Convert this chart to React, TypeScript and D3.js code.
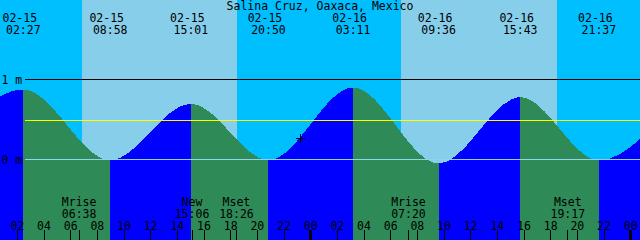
import React from "react";
import * as d3 from "d3";

const W = 640;
const H = 240;

const title = "Salina Cruz, Oaxaca, Mexico";
const windowStart = "2018-02-15 00:42";
const windowEnd = "2018-02-17 00:42";

// tide extrema (first and last lie just outside the window)
const tideTimes = [
  "2018-02-14 20:05",
  "2018-02-15 02:27",
  "2018-02-15 08:58",
  "2018-02-15 15:01",
  "2018-02-15 20:50",
  "2018-02-16 03:11",
  "2018-02-16 09:36",
  "2018-02-16 15:43",
  "2018-02-16 21:37",
  "2018-02-17 03:55",
];
const tideLevels = [0.0, 0.875, -0.01, 0.7, -0.01, 0.9, -0.05, 0.78, -0.01, 0.88];

const sunriseTimes = ["2018-02-15 06:51", "2018-02-16 06:47"];
const sunsetTimes = ["2018-02-15 18:28", "2018-02-16 18:28"];

const moonEventNames = ["Mrise", "New", "Mset", "Mrise", "Mset"];
const moonEventTimes = [
  "2018-02-15 06:38",
  "2018-02-15 15:06",
  "2018-02-15 18:26",
  "2018-02-16 07:20",
  "2018-02-16 19:17",
];

const levelTicks = [1, 0];
const levelTickLabels = ["1 m", "0 m"];
const meanLevel = 0.49;
const nowTime = "2018-02-15 23:13";
const nowLevel = 0.265;

const parse = d3.timeParse("%Y-%m-%d %H:%M");
const fmtDate = d3.timeFormat("%m-%d");
const fmtTime = d3.timeFormat("%H:%M");
const fmtHour = d3.timeFormat("%H");

const NIGHT = "#00BFFF";
const DAY = "#87CEEB";
const FLOOD = "#0000FF";
const EBB = "#2E8B57";
const FONT = "DejaVu Sans Mono";
const FS = 11.5;

export default function App() {
  const t0 = parse(windowStart)!;
  const t1 = parse(windowEnd)!;
  const x = d3.scaleTime().domain([t0, t1]).range([0, W]);
  const y = d3.scaleLinear().domain([0, 1]).range([159.5, 79.5]);

  const tides = tideTimes.map((s, i) => ({ t: parse(s)!, v: tideLevels[i] }));
  const area = d3
    .area<{ t: Date; v: number }>()
    .x((d) => x(d.t))
    .y0(H)
    .y1((d) => y(d.v))
    .curve(d3.curveMonotoneX);

  const stops: { off: number; color: string }[] = [];
  for (let i = 0; i < tides.length - 1; i++) {
    const c = tides[i + 1].v > tides[i].v ? FLOOD : EBB;
    const a = Math.max(0, Math.min(1, x(tides[i].t) / W));
    const b = Math.max(0, Math.min(1, x(tides[i + 1].t) / W));
    stops.push({ off: a, color: c }, { off: b, color: c });
  }

  const days = sunriseTimes.map((s, i) => ({ a: parse(s)!, b: parse(sunsetTimes[i])! }));
  const visibleTides = tides.filter((d) => d.t >= t0 && d.t <= t1);
  const hourTicks = d3.timeHour.every(2)!.range(t0, t1);
  const moons = moonEventTimes.map((s, i) => ({ t: parse(s)!, name: moonEventNames[i] }));
  const nowX = x(parse(nowTime)!);
  const nowY = y(nowLevel);

  const textProps = { fontFamily: FONT, fontSize: FS, fill: "#000" } as const;

  return (
    <svg
      width={W}
      height={H}
      style={{ position: "absolute", left: 0, top: 0, display: "block" }}
    >
      <defs>
        <linearGradient id="tideFill" gradientUnits="userSpaceOnUse" x1={0} x2={W} y1={0} y2={0}>
          {stops.map((s, i) => (
            <stop key={i} offset={s.off} stopColor={s.color} />
          ))}
        </linearGradient>
      </defs>
      <rect x={0} y={0} width={W} height={H} fill={NIGHT} />
      {days.map((d, i) => (
        <rect
          key={i}
          x={Math.round(x(d.a))}
          y={0}
          width={Math.round(x(d.b)) - Math.round(x(d.a))}
          height={H}
          fill={DAY}
          shapeRendering="crispEdges"
        />
      ))}
      <path d={area(tides) || ""} fill="url(#tideFill)" shapeRendering="crispEdges" />

      {/* level lines */}
      <line x1={25} x2={W} y1={y(1)} y2={y(1)} stroke="#000" strokeWidth={1} shapeRendering="crispEdges" />
      <line x1={25} x2={W} y1={y(0)} y2={y(0)} stroke="#8fd3ee" strokeWidth={1} shapeRendering="crispEdges" />
      <line
        x1={25}
        x2={W}
        y1={Math.floor(y(meanLevel)) + 0.5}
        y2={Math.floor(y(meanLevel)) + 0.5}
        stroke="#FFFF00"
        strokeWidth={1}
        shapeRendering="crispEdges"
      />
      {levelTicks.map((v, i) => (
        <text key={i} x={1.5} y={y(v) + 4} {...textProps}>
          {levelTickLabels[i]}
        </text>
      ))}

      {/* title */}
      <text x={W / 2} y={10} textAnchor="middle" {...textProps}>
        {title}
      </text>

      {/* tide event labels */}
      {visibleTides.map((d, i) => (
        <g key={i}>
          <text x={x(d.t) - 3.5} y={22} textAnchor="middle" {...textProps}>
            {fmtDate(d.t)}
          </text>
          <text x={x(d.t)} y={34} textAnchor="middle" {...textProps}>
            {fmtTime(d.t)}
          </text>
        </g>
      ))}

      {/* moon events */}
      {moons.map((m, i) => (
        <g key={i}>
          <text x={x(m.t)} y={206} textAnchor="middle" {...textProps}>
            {m.name}
          </text>
          <text x={x(m.t)} y={218} textAnchor="middle" {...textProps}>
            {fmtTime(m.t)}
          </text>
          <line
            x1={Math.floor(x(m.t)) + 0.5}
            x2={Math.floor(x(m.t)) + 0.5}
            y1={230}
            y2={H}
            stroke="#000"
            shapeRendering="crispEdges"
          />
        </g>
      ))}

      {/* hour ticks */}
      {hourTicks.map((t, i) => {
        const px = x(t);
        const midnight = t.getHours() === 0;
        return (
          <g key={i}>
            <text x={px} y={230} textAnchor="middle" {...textProps}>
              {fmtHour(t)}
            </text>
            {midnight ? (
              <rect x={Math.floor(px) - 1} y={230} width={3} height={10} fill="#000" shapeRendering="crispEdges" />
            ) : (
              <line
                x1={Math.floor(px) + 0.5}
                x2={Math.floor(px) + 0.5}
                y1={230}
                y2={H}
                stroke="#000"
                shapeRendering="crispEdges"
              />
            )}
          </g>
        );
      })}

      {/* current position marker */}
      <line x1={nowX - 4} x2={nowX + 5} y1={Math.floor(nowY) + 0.5} y2={Math.floor(nowY) + 0.5} stroke="#000" shapeRendering="crispEdges" />
      <line x1={Math.floor(nowX) + 0.5} x2={Math.floor(nowX) + 0.5} y1={nowY - 4} y2={nowY + 5} stroke="#000" shapeRendering="crispEdges" />
    </svg>
  );
}
